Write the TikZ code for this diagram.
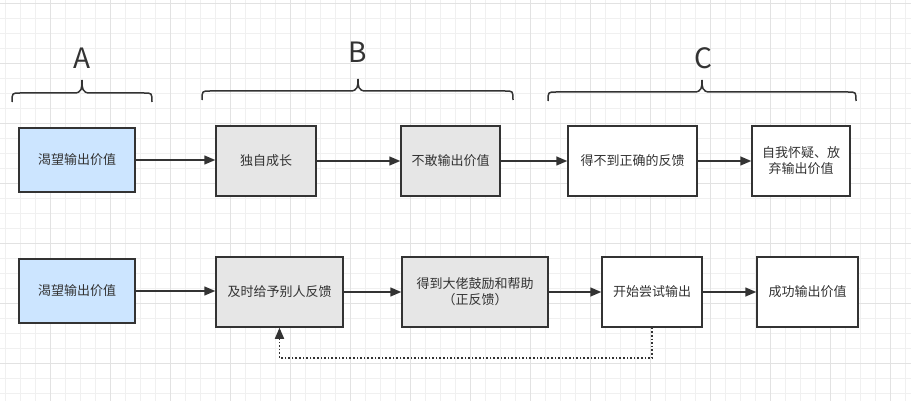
\documentclass[tikz,border=0pt]{standalone}
\usepackage{fontspec}
\setmainfont{Noto Sans CJK SC}
\usetikzlibrary{arrows.meta}
\definecolor{ink}{HTML}{333333}
\definecolor{bluefill}{HTML}{CCE5FF}
\definecolor{grayfill}{HTML}{E6E6E6}
\definecolor{gridminor}{HTML}{F0F0F0}
\definecolor{gridmajor}{HTML}{E2E2E2}
\begin{document}
\begin{tikzpicture}[x=1pt,y=-1pt,
  box/.style={draw=ink,line width=1.5pt,text=ink,font=\fontsize{13}{16}\selectfont,align=center,inner sep=0pt},
  flow/.style={draw=ink,line width=1.5pt,-{Triangle[length=11pt,width=9pt]}},
  loopback/.style={draw=ink,line width=1.6pt,dotted,-{Triangle[length=11pt,width=9pt]}},
  brace/.style={draw=ink,line width=1.5pt},
  bigletter/.style={text=ink,font=\fontsize{28}{30}\selectfont,inner sep=0pt}]
\fill[white] (0,0) rectangle (911,401);
\useasboundingbox (0,0) rectangle (911,401);
% grid
\foreach \x in {5,20,...,910} \draw[gridminor,line width=0.8pt] (\x,0) -- (\x,401);
\foreach \y in {3,18,...,400} \draw[gridminor,line width=0.8pt] (0,\y) -- (911,\y);
\foreach \x in {50,110,...,910} \draw[gridmajor,line width=0.9pt] (\x,0) -- (\x,401);
\foreach \y in {3,63,...,400} \draw[gridmajor,line width=0.9pt] (0,\y) -- (911,\y);
% braces
\draw[brace] (12,102) .. controls (12,93) .. (20,93) -- (74,93) .. controls (82,93) and (82,88) .. (82,80)
  .. controls (82,88) and (82,93) .. (90,93) -- (144,93) .. controls (152,93) .. (152,102);
\draw[brace] (202,100) .. controls (202,91) .. (210,91) -- (350,91) .. controls (358,91) and (358,86) .. (358,79)
  .. controls (358,86) and (358,91) .. (366,91) -- (505,91) .. controls (513,91) .. (513,100);
\draw[brace] (548,101) .. controls (548,92) .. (556,92) -- (694,92) .. controls (702,92) and (702,87) .. (702,80)
  .. controls (702,87) and (702,92) .. (710,92) -- (848,92) .. controls (856,92) .. (856,101);
\node[bigletter] (la) at (82,58) {A};
\node[bigletter] (lb) at (358,52) {B};
\node[bigletter] (lc) at (703,58) {C};
% row 1
\node[box,fill=bluefill,minimum width=116pt,minimum height=64pt] (a1) at (77,160) {渴望输出价值};
\node[box,fill=grayfill,minimum width=100pt,minimum height=70pt] (b1) at (266,161) {独自成长};
\node[box,fill=grayfill,minimum width=99pt,minimum height=70pt] (b2) at (450.5,161) {不敢输出价值};
\node[box,fill=white,minimum width=129pt,minimum height=70pt] (c1) at (632.5,161) {得不到正确的反馈};
\node[box,fill=white,minimum width=98pt,minimum height=70pt] (c2) at (801,161) {自我怀疑、放\\弃输出价值};
% row 2
\node[box,fill=bluefill,minimum width=116pt,minimum height=64pt] (a2) at (77,291) {渴望输出价值};
\node[box,fill=grayfill,minimum width=127pt,minimum height=70pt] (d1) at (279.5,292) {及时给予别人反馈};
\node[box,fill=grayfill,minimum width=146pt,minimum height=70pt] (d2) at (475,292) {得到大佬鼓励和帮助\\（正反馈）};
\node[box,fill=white,minimum width=100pt,minimum height=70pt] (d3) at (652,292) {开始尝试输出};
\node[box,fill=white,minimum width=101pt,minimum height=70pt] (d4) at (807.5,292) {成功输出价值};
% connectors
\draw[flow] (a1.east) -- (a1.east -| b1.west);
\draw[flow] (b1) -- (b2);
\draw[flow] (b2) -- (c1);
\draw[flow] (c1) -- (c2);
\draw[flow] (a2.east) -- (a2.east -| d1.west);
\draw[flow] (d1) -- (d2);
\draw[flow] (d2) -- (d3);
\draw[flow] (d3) -- (d4);
\coordinate (loopturn) at (652,358);
\draw[loopback] (d3.south) -- (loopturn) -| (d1.south);
\end{tikzpicture}
\end{document}
